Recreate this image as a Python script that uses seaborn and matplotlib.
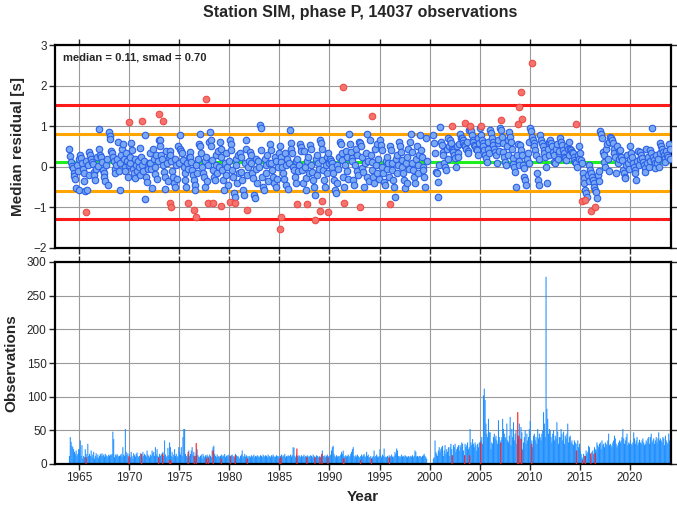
import numpy as np
import matplotlib
matplotlib.use('Agg')
import matplotlib.pyplot as plt
import seaborn as sns

# summary statistics shown on the chart
median = 0.11
smad = 0.70
n_obs = 14037
start_year = 1964

# monthly median residuals [s], Jan 1964 ... Jan 2024 (nan = no data)
nan = np.nan
residual = [
    0.43, 0.27, 0.13, 0.02, -0.04, -0.16, -0.22, -0.31, -0.51, 0.05, -0.10, 0.20,   # 1964
    -0.57, 0.29, 0.22, 0.10, -0.05, -0.15, -0.35, -0.60, 0.15, -0.58, 0.05, -0.20,  # 1965
    0.37, 0.30, 0.20, 0.12, 0.08, -0.12, -0.20, -0.33, -0.05, 0.25, 0.02, 0.92,
    0.45, 0.30, 0.25, 0.12, -0.08, -0.16, -0.24, -0.36, 0.05, 0.18, -0.45, 0.85,
    0.75, 0.68, 0.40, 0.33, 0.25, 0.15, -0.05, -0.15, 0.05, 0.20, 0.62, -0.10,
    -0.57, 0.10, 0.30, 0.45, 0.55, 0.20, 0.00, -0.10, 0.35, 0.15, -0.25, 0.05,
    0.10, 0.25, 0.58, 0.41, -0.05, -0.15, 0.20, -0.28, 0.05, -0.10, 0.15, 0.00,     # 1970
    -0.20, 0.46, 0.25, 0.05, -0.10, 0.15, -0.80, 0.78, -0.25, -0.38, -0.05, 0.10,
    0.35, 0.10, -0.05, -0.53, 0.45, 0.20, 0.00, -0.18, 0.30, -0.30, 0.15, 0.66,
    0.66, 0.50, 0.30, 0.20, 0.05, -0.12, -0.25, -0.55, 0.40, 0.10, -0.35, 0.25,
    0.40, 0.30, 0.15, -0.10, -0.25, -0.40, -0.50, 0.20, 0.05, -0.30, 0.50, 0.10,
    0.78, 0.45, 0.40, 0.33, 0.17, 0.00, -0.16, -0.32, -0.49, 0.10, -0.05, 0.25,     # 1975
    0.36, 0.25, 0.12, -0.08, -0.20, -0.32, -0.45, -0.57, 0.05, -0.15, 0.20, 0.55,
    0.82, 0.50, 0.33, 0.00, -0.16, -0.24, -0.50, 0.15, 0.25, -0.35, 0.05, 0.60,
    0.86, 0.65, 0.50, 0.17, -0.08, -0.24, -0.32, 0.05, 0.30, -0.15, 0.40, 0.00,
    0.62, 0.45, 0.25, -0.08, -0.32, -0.57, 0.10, -0.20, 0.35, 0.00, -0.45, 0.15,
    0.66, 0.55, 0.41, -0.08, -0.24, -0.65, -0.74, 0.20, 0.05, -0.40, 0.30, -0.15,   # 1980
    0.33, 0.25, -0.12, -0.32, -0.57, -0.70, 0.10, 0.66, 0.45, -0.20, 0.00, 0.15,
    0.37, 0.29, 0.09, -0.16, -0.28, -0.70, -0.78, 0.20, -0.05, -0.40, 0.15, 0.00,
    1.02, 0.95, 0.41, -0.24, -0.49, -0.57, 0.20, 0.05, -0.15, 0.30, -0.35, 0.10,
    0.55, 0.41, 0.09, -0.08, -0.24, -0.41, 0.25, -0.50, 0.15, -0.30, 0.00, 0.35,
    0.50, 0.25, 0.13, 0.00, -0.16, -0.30, 0.35, -0.45, 0.05, 0.20, -0.55, 0.10,     # 1985
    0.91, 0.58, 0.45, 0.33, 0.00, -0.08, -0.25, 0.15, -0.40, 0.20, -0.10, 0.05,
    0.55, 0.48, 0.40, -0.08, -0.40, 0.38, 0.00, -0.28, -0.57, 0.15, 0.25, -0.15,
    0.54, 0.45, 0.05, -0.12, -0.32, -0.49, -0.70, 0.20, 0.30, -0.20, 0.10, -0.05,
    0.66, 0.58, 0.45, 0.17, -0.08, -0.32, -0.49, 0.05, 0.25, -0.15, 0.35, 0.10,
    0.20, 0.15, 0.10, 0.00, -0.16, -0.32, -0.57, -0.65, 0.05, -0.40, -0.05, 0.25,   # 1990
    0.62, 0.55, 0.33, 0.17, -0.24, -0.49, 0.05, 0.40, -0.10, 0.25, -0.30, 0.80,
    0.55, 0.37, 0.21, 0.15, -0.32, -0.45, 0.05, 0.45, -0.10, 0.30, -0.20, 0.60,
    0.58, 0.50, 0.25, -0.04, -0.12, -0.49, 0.10, 0.35, -0.25, 0.80, 0.15, -0.35,
    0.66, 0.30, 0.13, -0.08, -0.24, -0.41, 0.45, 0.05, -0.15, 0.55, 0.20, -0.30,
    0.66, 0.54, 0.41, 0.00, -0.16, -0.37, -0.45, 0.15, 0.25, -0.05, 0.10, -0.25,    # 1995
    0.50, 0.41, 0.09, -0.08, -0.32, -0.49, -0.74, 0.20, 0.30, -0.15, 0.05, 0.60,
    0.50, 0.37, 0.17, 0.00, -0.16, -0.32, -0.53, 0.10, 0.25, -0.40, 0.45, -0.05,
    0.60, 0.82, 0.37, 0.09, -0.08, -0.24, -0.41, 0.20, 0.50, -0.15, 0.05, 0.30,
    0.78, 0.41, 0.25, 0.00, -0.08, -0.24, -0.49, 0.70, 0.15, nan, nan, nan,
    nan, nan, nan, nan, 0.78, 0.58, 0.33, -0.12, -0.16, -0.37, -0.74, 0.05,         # 2000
    0.99, 0.62, 0.54, 0.37, 0.29, 0.09, 0.00, -0.08, 0.45, 0.20, 0.70, 0.50,
    0.66, 0.58, 0.45, 0.41, 0.37, 0.29, 0.21, 0.00, 0.50, 0.35, 0.25, 0.55,
    0.80, 0.72, 0.70, 0.66, 0.58, 0.54, 0.50, 0.45, 0.62, 0.40, 0.35, 0.90,
    0.95, 0.87, 0.78, 0.66, 0.62, 0.54, 0.50, 0.45, 0.41, 0.30, 0.70, 0.58,
    0.95, 0.78, 0.66, 0.58, 0.50, 0.41, 0.29, 0.21, 0.13, 0.60, 0.45, 0.35,         # 2005
    0.91, 0.83, 0.70, 0.62, 0.54, 0.45, 0.37, 0.29, 0.10, 0.58, 0.66, 0.40,
    0.95, 0.91, 0.74, 0.58, 0.37, 0.25, 0.13, 0.04, 0.50, 0.65, 0.30, 0.85,
    0.74, 0.62, 0.45, 0.21, 0.08, 0.00, -0.12, -0.49, 0.30, 0.55, 0.15, 0.05,
    0.54, 0.41, 0.29, 0.04, -0.04, -0.24, -0.33, -0.45, 0.20, 0.35, 0.10, 0.60,
    0.95, 0.87, 0.74, 0.66, 0.58, 0.50, 0.41, 0.29, -0.16, -0.33, -0.45, 0.20,      # 2010
    0.78, 0.66, 0.58, 0.50, 0.41, 0.33, 0.25, 0.00, -0.41, 0.45, 0.60, 0.30,
    0.66, 0.58, 0.50, 0.37, 0.29, 0.13, 0.09, 0.45, 0.55, 0.20, 0.35, 0.40,
    0.70, 0.62, 0.54, 0.41, 0.33, 0.25, 0.21, 0.17, 0.50, 0.45, 0.30, 0.60,
    0.45, 0.41, 0.37, 0.33, 0.25, 0.17, 0.13, 0.09, 0.00, 0.30, 0.20, 0.50,
    0.33, 0.17, 0.09, -0.16, -0.28, -0.41, -0.57, -0.65, -0.74, -0.20, -0.35, 0.05,  # 2015
    -0.08, -0.16, -0.24, -0.32, -0.41, -0.49, -0.57, -0.61, -0.78, -0.20, -0.35, -0.10,
    0.87, 0.82, 0.70, 0.37, 0.29, 0.13, 0.00, 0.45, 0.55, 0.20, -0.10, 0.60,
    0.74, 0.70, 0.66, 0.58, 0.45, 0.33, 0.25, -0.16, 0.50, 0.10, 0.20, 0.40,
    0.41, 0.25, 0.17, -0.08, -0.16, -0.24, -0.28, 0.05, 0.30, 0.10, -0.05, 0.20,
    0.50, 0.33, 0.25, 0.09, 0.00, -0.08, -0.16, -0.32, 0.15, 0.40, 0.05, 0.20,      # 2020
    0.37, 0.29, 0.21, 0.13, 0.04, -0.04, -0.12, 0.45, 0.10, 0.25, 0.00, 0.15,
    0.41, 0.33, 0.95, 0.25, 0.17, 0.09, -0.04, 0.30, 0.10, 0.20, 0.00, 0.35,
    0.58, 0.50, 0.45, 0.37, 0.29, 0.21, 0.13, 0.40, 0.30, 0.25, 0.55, 0.20,
    0.45,
]

# monthly number of observations, same months
counts = [
    12, 40, 33, 27, 25, 22, 18, 15, 20, 12, 15, 22,   # 1964
    22, 35, 12, 28, 8, 12, 10, 22, 15, 10, 30, 12,
    15, 12, 20, 10, 14, 18, 8, 12, 16, 10, 14, 9,
    12, 15, 13, 16, 12, 14, 11, 15, 13, 12, 10, 14,
    12, 14, 13, 15, 48, 37, 10, 14, 12, 15, 13, 11,
    12, 13, 15, 11, 25, 14, 12, 52, 18, 13, 16, 10,
    14, 10, 18, 12, 8, 16, 13, 11, 15, 17, 12, 10,    # 1970
    12, 16, 14, 10, 18, 12, 15, 13, 11, 20, 14, 12,
    10, 14, 12, 20, 16, 18, 12, 25, 14, 22, 12, 10,
    15, 12, 14, 16, 18, 12, 35, 14, 10, 12, 24, 13,
    32, 25, 12, 18, 10, 14, 22, 12, 15, 10, 12, 25,
    18, 14, 25, 12, 40, 52, 52, 15, 12, 10, 14, 20,
    12, 15, 20, 25, 14, 18, 10, 12, 16, 22, 13, 11,
    10, 12, 14, 8, 15, 12, 10, 13, 11, 14, 12, 9,
    14, 12, 10, 20, 25, 27, 15, 12, 10, 14, 11, 12,
    10, 12, 14, 11, 13, 12, 15, 10, 12, 13, 11, 14,
    12, 10, 13, 14, 11, 12, 10, 15, 13, 11, 12, 10,   # 1980
    8, 12, 14, 20, 10, 12, 15, 11, 13, 10, 12, 9,
    12, 10, 13, 11, 12, 14, 10, 12, 11, 13, 12, 10,
    11, 13, 12, 10, 14, 12, 11, 13, 12, 10, 14, 11,
    12, 10, 13, 11, 14, 12, 10, 11, 13, 12, 10, 12,
    10, 12, 14, 11, 13, 12, 15, 10, 12, 11, 13, 12,
    12, 14, 11, 13, 25, 24, 12, 10, 14, 12, 11, 13,
    12, 10, 13, 11, 12, 14, 10, 12, 11, 13, 10, 12,
    11, 13, 12, 10, 14, 12, 11, 10, 13, 12, 10, 11,
    12, 10, 14, 20, 12, 11, 13, 10, 12, 14, 11, 12,
    12, 14, 20, 25, 27, 15, 12, 10, 13, 11, 12, 10,   # 1990
    12, 14, 18, 15, 20, 12, 10, 13, 11, 12, 14, 10,
    12, 15, 18, 22, 25, 12, 10, 13, 11, 14, 12, 10,
    10, 12, 14, 11, 13, 15, 12, 10, 18, 12, 14, 10,
    10, 12, 8, 10, 12, 20, 10, 12, 14, 11, 10, 12,
    22, 12, 10, 14, 12, 23, 10, 11, 10, 12, 10, 13,
    10, 12, 14, 11, 10, 12, 18, 15, 23, 20, 12, 10,
    12, 10, 14, 11, 12, 10, 13, 12, 11, 10, 12, 11,
    10, 12, 11, 13, 10, 12, 20, 18, 11, 12, 10, 12,
    12, 11, 10, 12, 13, 15, 12, 10, 8, 0, 0, 0,
    0, 0, 0, 0, 8, 10, 35, 18, 15, 12, 20, 25,        # 2000
    18, 22, 25, 27, 12, 20, 28, 15, 22, 18, 25, 12,
    25, 30, 22, 13, 28, 25, 30, 18, 22, 25, 28, 20,
    28, 25, 32, 30, 20, 13, 30, 25, 28, 32, 22, 25,
    52, 32, 28, 37, 30, 25, 32, 28, 20, 30, 25, 32,
    32, 35, 40, 30, 102, 112, 95, 60, 45, 40, 67, 47,
    47, 22, 32, 30, 40, 45, 38, 42, 35, 30, 65, 40,
    30, 35, 40, 67, 52, 45, 40, 38, 60, 35, 32, 42,
    70, 28, 52, 40, 62, 35, 45, 50, 30, 42, 38, 60,
    38, 55, 47, 22, 32, 40, 50, 30, 45, 35, 40, 52,
    64, 30, 35, 25, 42, 45, 35, 40, 30, 52, 38, 45,   # 2010
    40, 35, 45, 50, 77, 60, 40, 278, 82, 67, 45, 52,
    50, 40, 32, 45, 50, 35, 42, 38, 62, 48, 30, 40,
    40, 52, 45, 35, 48, 30, 42, 38, 45, 60, 32, 40,
    42, 32, 35, 30, 28, 35, 32, 30, 20, 35, 25, 30,
    20, 15, 10, 8, 15, 12, 10, 20, 15, 18, 27, 25,
    15, 10, 18, 20, 15, 25, 22, 20, 32, 28, 25, 30,
    32, 22, 35, 28, 30, 25, 32, 30, 28, 35, 45, 28,
    30, 28, 25, 32, 35, 42, 38, 30, 25, 28, 32, 35,
    32, 35, 40, 52, 38, 30, 35, 40, 45, 28, 32, 30,
    35, 30, 28, 32, 47, 38, 30, 35, 40, 28, 32, 36,   # 2020
    32, 30, 35, 38, 32, 28, 30, 35, 32, 38, 40, 30,
    40, 45, 32, 35, 38, 30, 35, 40, 32, 38, 47, 35,
    38, 35, 32, 40, 38, 28, 42, 35, 32, 30, 45, 35,
    33,
]

# outlier months (drawn in red in both panels)
red_year = [1965.70, 1970.00, 1971.25, 1972.95, 1973.35, 1974.05, 1974.15, 1975.90,
            1976.50, 1976.70, 1977.70, 1977.90, 1978.40, 1979.20, 1980.10, 1980.60,
            1981.80, 1985.05, 1985.15, 1986.75, 1987.75, 1988.55, 1989.05, 1989.25,
            1989.85, 1991.40, 1991.45, 1993.10, 1994.20, 1996.00, 2002.25, 2003.50,
            2004.00, 2005.10, 2007.10, 2008.80, 2008.90, 2009.15, 2009.20, 2010.20,
            2014.65, 2015.25, 2015.55, 2016.10, 2016.55]
red_resid = [-1.11, 1.10, 1.14, 1.30, 1.13, -0.90, -0.98, -0.88,
             -1.06, -1.24, 1.66, -0.88, -0.88, -0.97, -0.87, -0.90,
             -1.06, -1.52, -1.24, -0.92, -0.91, -1.30, -1.08, -0.85,
             -1.11, 1.97, -0.89, -1.00, 1.26, -0.91, 1.01, 1.09,
             1.01, 1.01, 1.16, 1.05, 1.48, 1.85, 1.18, 2.56,
             1.05, -0.85, -0.83, -1.10, -1.00]
red_count = [10, 12, 15, 10, 15, 6, 6, 18,
             12, 31, 8, 10, 20, 8, 12, 13,
             8, 8, 10, 23, 10, 10, 10, 15,
             10, 8, 8, 6, 8, 10, 13, 13,
             13, 32, 32, 77, 42, 37, 20, 30,
             20, 6, 12, 16, 16]

year_ticks = list(range(1965, 2021, 5))

sns.set_style('ticks')
plt.rcParams['font.family'] = ['Liberation Sans', 'DejaVu Sans']

month = start_year + (np.arange(len(residual)) + 0.5) / 12

fig = plt.figure(figsize=(6.77, 5.11), dpi=100)
ax1 = fig.add_axes([55 / 677, 1 - 248 / 511, 616 / 677, 203 / 511])
ax2 = fig.add_axes([55 / 677, 1 - 464 / 511, 616 / 677, 202 / 511])

# --- top panel: median residuals
for lev, col in [(median + 2 * smad, '#FF1A1A'), (median - 2 * smad, '#FF1A1A'),
                 (median + smad, '#FFA500'), (median - smad, '#FFA500'),
                 (median, '#1EF01E')]:
    ax1.axhline(lev, color=col, lw=2.2, zorder=2)

sns.scatterplot(x=month, y=residual, ax=ax1, s=22, color='#7AA8F2',
                edgecolor='#2A60E8', linewidth=0.8, zorder=3, legend=False)
sns.scatterplot(x=red_year, y=red_resid, ax=ax1, s=22, color='#F4736E',
                edgecolor='#EE4B45', linewidth=0.8, zorder=4, legend=False)

ax1.text(0.013, 0.965, f'median = {median:.2f}, smad = {smad:.2f}',
         transform=ax1.transAxes, fontsize=8, fontweight='bold', va='top')
ax1.set_ylim(-2, 3)
ax1.set_yticks([-2, -1, 0, 1, 2, 3])
ax1.set_ylabel('Median residual [s]', fontsize=11, fontweight='bold', labelpad=6)
ax1.tick_params(labelbottom=False)

# --- bottom panel: observations per month (bars slightly wider than a month so
# that thin bars are not snapped away)
ax2.bar(month, counts, width=1.25 / 12, color='#1E8FFF', linewidth=0,
        snap=False, zorder=2)
ax2.bar(red_year, red_count, width=1.4 / 12, color='#FF2020', linewidth=0,
        snap=False, zorder=3)
ax2.set_ylim(0, 300)
ax2.set_yticks(range(0, 301, 50))
ax2.set_ylabel('Observations', fontsize=11, fontweight='bold', labelpad=6)
ax2.set_xlabel('Year', fontsize=11, fontweight='bold', labelpad=4)

for ax in (ax1, ax2):
    ax.set_xlim(1962.6, 2024.1)
    ax.set_xticks(year_ticks)
    ax.grid(True, color='#9A9A9A', lw=0.8, zorder=0)
    ax.set_axisbelow(True)
    ax.tick_params(direction='out', length=4, width=1, labelsize=8.5,
                   top=True, right=True, pad=2)
    for sp in ax.spines.values():
        sp.set_linewidth(1.6)
        sp.set_color('black')

fig.text(0.532, 0.976, f'Station SIM, phase P, {n_obs} observations',
         ha='center', va='center', fontsize=11.5, fontweight='bold')

fig.savefig('out.png', dpi=100)
